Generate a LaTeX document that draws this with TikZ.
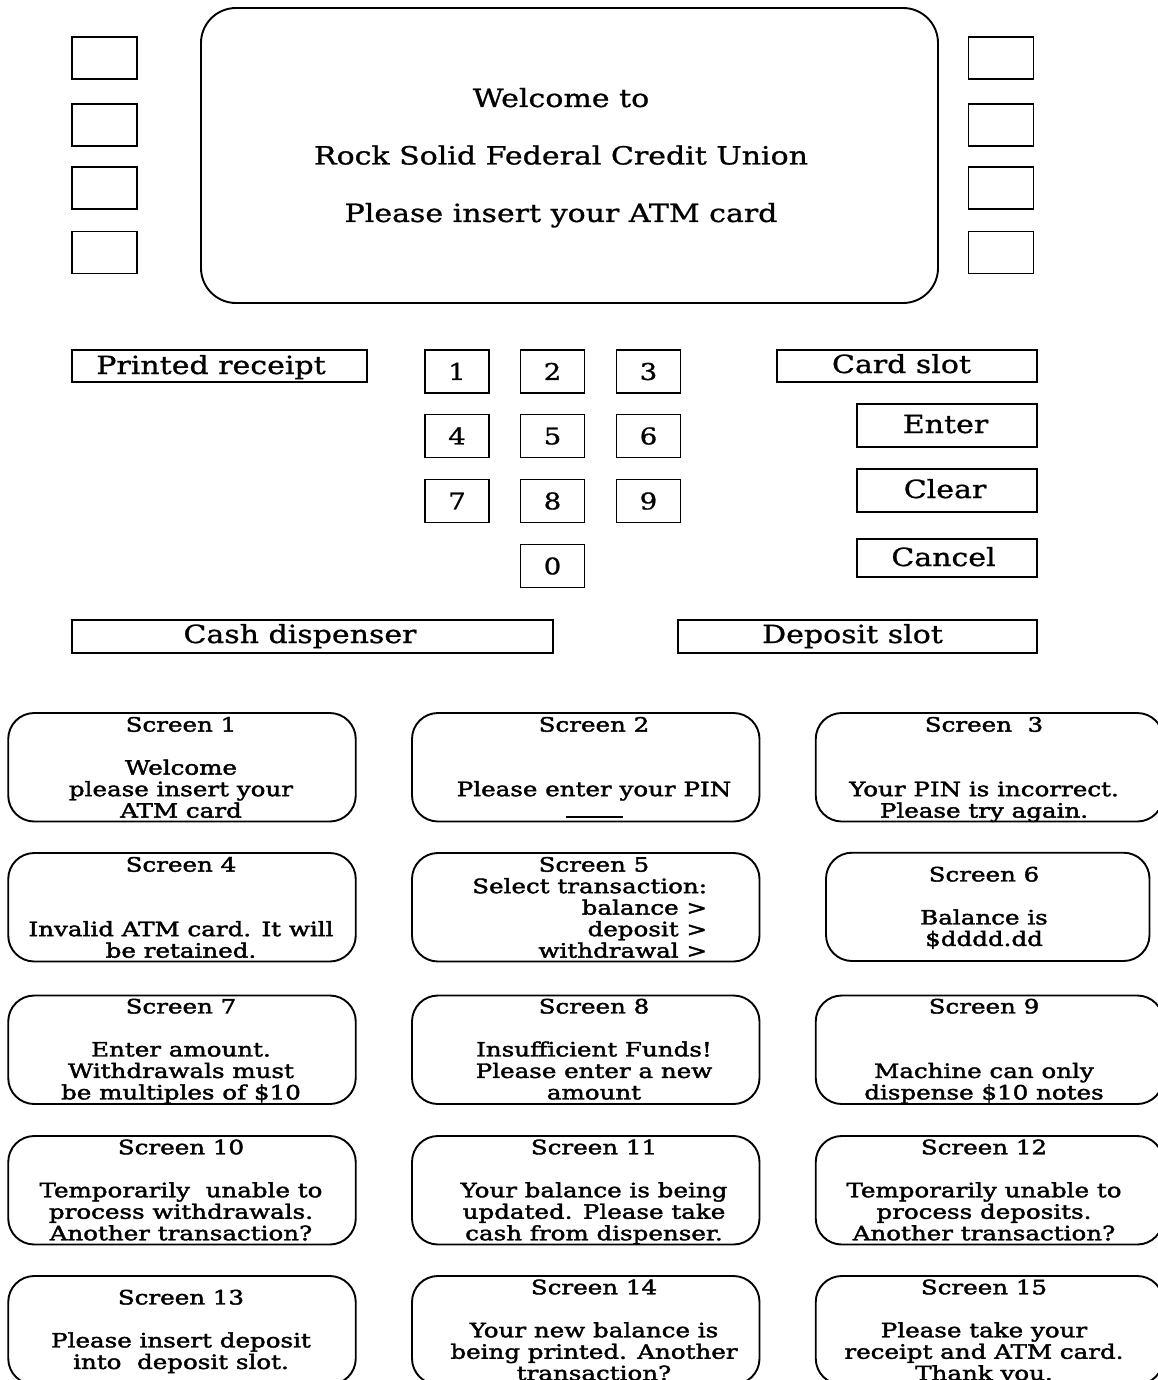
\documentclass[tikz,border=0pt]{standalone}
\usepackage{fontspec}
\setmainfont{DejaVu Serif}[FakeStretch=1.2,FakeBold=1]
\newfontfamily\tilefont{DejaVu Serif}[FakeStretch=1.24,FakeBold=2]

% one message tile: name, centre x, top y, text x, first baseline, lines
\newcommand\atmtile[6]{%
  \node[tile] (#1) at (#2,#3+54.25) {};
  \node[tiletext] (#1t) at (#4,#5-15.05) {\strut #6};
}

\tikzset{
  panel/.style={draw, rectangle, inner sep=0pt},
  display/.style={panel, rounded corners=35pt, minimum width=737pt, minimum height=295pt},
  sidekey/.style={panel, minimum width=65pt, minimum height=42pt},
  keybox/.style={panel, minimum width=64pt, minimum height=43pt,
    font={\fontsize{23}{27}\selectfont}, text height=16.8pt, text depth=0pt},
  slotbox/.style={panel},
  slotlabel/.style={anchor=base, inner sep=0pt, font={\fontsize{25}{30}\selectfont}},
  tile/.style={panel, rounded corners=26pt, minimum width=347.5pt, minimum height=108.5pt},
  tiletext/.style={anchor=north, align=center, inner sep=0pt,
    font={\tilefont\fontsize{19.8}{21.5}\selectfont}},
}

\begin{document}
\lineskiplimit=-100pt
\begin{tikzpicture}[x=1pt, y=-1pt, line width=1.9pt]
\fill[white] (0,0) rectangle (1158,1380);
\useasboundingbox (0,0) rectangle (1158,1380);

% ---------- ATM front panel ----------
\node[display] (display) at (569.5,155.5) {};
\node[anchor=north, align=center, inner sep=0pt,
      font={\fontsize{25}{57.5}\selectfont}] (welcome) at (561,65.75)
  {\strut Welcome to\\Rock Solid Federal Credit Union\\Please insert your ATM card};

\foreach \yy [count=\i] in {58,125,188,252.5} {
  \node[sidekey] (l\i) at (104.5,\yy) {};
  \node[sidekey] (r\i) at (1001,\yy) {};
}

% keypad
\foreach \d/\xx/\yy in {1/457/371.5, 2/552.5/371.5, 3/648.5/371.5,
                        4/457/436,   5/552.5/436,   6/648.5/436,
                        7/457/501,   8/552.5/501,   9/648.5/501,
                        0/552.5/566} {
  \node[keybox] (k\d) at (\xx,\yy) {\d};
}

% slots and function keys
\node[slotbox, minimum width=295pt, minimum height=32pt] (receipt) at (219.5,366) {};
\node[slotlabel] (receiptl) at (211,374) {Printed receipt};

\node[slotbox, minimum width=260pt, minimum height=32pt] (card) at (907,366) {};
\node[slotlabel] (cardl) at (901.5,373) {Card slot};

\node[slotbox, minimum width=180pt, minimum height=43pt] (enter) at (947,425.5) {};
\node[slotlabel] (enterl) at (945.5,433) {Enter};

\node[slotbox, minimum width=180pt, minimum height=43pt] (clear) at (947,490.5) {};
\node[slotlabel] (clearl) at (945,498) {Clear};

\node[slotbox, minimum width=180pt, minimum height=38pt] (cancel) at (947,558) {};
\node[slotlabel] (cancell) at (943.5,566) {Cancel};

\node[slotbox, minimum width=481pt, minimum height=33pt] (cash) at (312.5,636.5) {};
\node[slotlabel] (cashl) at (300,643) {Cash dispenser};

\node[slotbox, minimum width=359pt, minimum height=33pt] (deposit) at (857.5,636.5) {};
\node[slotlabel] (depositl) at (852.5,643) {Deposit slot};

% ---------- screen messages ----------
\atmtile{s1}{182}{713}{181}{730.7}{Screen 1\\\mbox{}\\Welcome\\please insert your\\ATM card}
\atmtile{s2}{585.75}{713}{594}{730.7}{Screen 2\\\mbox{}\\\mbox{}\\Please enter your PIN\\\rule{57pt}{1.3pt}}
\atmtile{s3}{989.5}{713}{984}{730.7}{Screen\ \ 3\\\mbox{}\\\mbox{}\\Your PIN is incorrect.\\Please try again.}

\atmtile{s4}{182}{853}{181}{870.7}{Screen 4\\\mbox{}\\\mbox{}\\Invalid ATM card. It will\\be retained.}
\node[tile] (s5) at (585.75,853+54.25) {};
\node[tiletext] (s5t) at (594,870.7-15.05) {\strut Screen 5};
\node[tiletext, anchor=north east, align=right] (s5m) at (708,892.2-15.05)
  {\strut Select transaction:\\balance >\\deposit >\\withdrawal >};
\node[tile, minimum width=323.5pt, minimum height=108.3pt] (s6) at (987.75,852.7+54.15) {};
\node[tiletext] (s6t) at (984,880.5-15.05) {\strut Screen 6\\\mbox{}\\Balance is\\\$dddd.dd};

\atmtile{s7}{182}{995.5}{181}{1012.5}{Screen 7\\\mbox{}\\Enter amount.\\Withdrawals must\\be multiples of \$10}
\atmtile{s8}{585.75}{995.5}{594}{1012.5}{Screen 8\\\mbox{}\\Insufficient Funds!\\Please enter a new\\amount}
\atmtile{s9}{989.5}{995.5}{984}{1012.5}{Screen 9\\\mbox{}\\\mbox{}\\Machine can only\\dispense \$10 notes}

\atmtile{s10}{182}{1136}{181}{1153.3}{Screen 10\\\mbox{}\\Temporarily\ \ unable to\\process withdrawals.\\Another transaction?}
\atmtile{s11}{585.75}{1136}{594}{1153.3}{Screen 11\\\mbox{}\\Your balance is being\\updated. Please take\\cash from dispenser.}
\atmtile{s12}{989.5}{1136}{984}{1153.3}{Screen 12\\\mbox{}\\Temporarily unable to\\process deposits.\\Another transaction?}

\atmtile{s13}{182}{1276}{181}{1303.5}{Screen 13\\\mbox{}\\Please insert deposit\\into\ \ deposit slot.}
\atmtile{s14}{585.75}{1276}{594}{1293.3}{Screen 14\\\mbox{}\\Your new balance is\\being printed. Another\\transaction?}
\atmtile{s15}{989.5}{1276}{984}{1293.3}{Screen 15\\\mbox{}\\Please take your\\receipt and ATM card.\\Thank you.}
\end{tikzpicture}
\end{document}
